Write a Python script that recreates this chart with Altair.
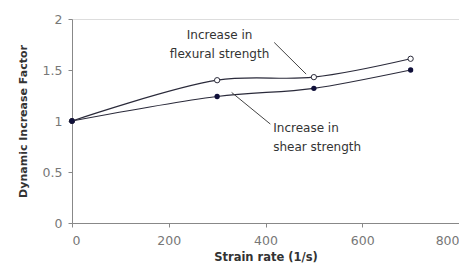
import altair as alt
import pandas as pd

rate = [0, 300, 500, 700]
flexural = [1.0, 1.40, 1.43, 1.61]
shear = [1.0, 1.24, 1.32, 1.50]

x_ticks = [0, 200, 400, 600, 800]
y_ticks = [0, 0.5, 1, 1.5, 2]

label_x = [305, 305, 416, 416]
label_y = [1.84, 1.66, 0.93, 0.745]
label_text = ["Increase in", "flexural strength", "Increase in", "shear strength"]
label_align = ["center", "center", "left", "left"]

leader_x = [418, 330]
leader_y = [1.77, 1.28]
leader_x2 = [484, 410]
leader_y2 = [1.46, 0.97]

df_f = pd.DataFrame({"rate": rate, "v": flexural})
df_s = pd.DataFrame({"rate": rate, "v": shear})
df_lab = pd.DataFrame({"x": label_x, "y": label_y, "t": label_text, "a": label_align})
df_lead = pd.DataFrame({"x": leader_x, "y": leader_y, "x2": leader_x2, "y2": leader_y2})

FONT = "DejaVu Sans"
LINE = "#2a2a3a"

xs = alt.Scale(domain=[0, 800], nice=False)
ys = alt.Scale(domain=[0, 2], nice=False)

xax = alt.Axis(values=x_ticks, title="Strain rate (1/s)", grid=False, labelFontSize=12.5,
               labelColor="#777", titleFontSize=11.5, titleColor="#333", titleFontWeight="bold",
               domainColor="#888", tickColor="#888", tickSize=4, labelPadding=7, titlePadding=5,
               labelFont=FONT, titleFont=FONT, format="d")
yax = alt.Axis(values=y_ticks, title="Dynamic Increase Factor", grid=False, labelFontSize=12.5,
               labelColor="#777", titleFontSize=11, titleColor="#333", titleFontWeight="bold",
               domainColor="#888", tickColor="#888", tickSize=4, labelPadding=6, titlePadding=14,
               labelFont=FONT, titleFont=FONT, format="~g")

flex_line = alt.Chart(df_f).mark_line(interpolate="catmull-rom", color=LINE, strokeWidth=1.2).encode(
    x=alt.X("rate:Q", scale=xs, axis=xax), y=alt.Y("v:Q", scale=ys, axis=yax))
shear_line = alt.Chart(df_s).mark_line(interpolate="catmull-rom", color=LINE, strokeWidth=1.2).encode(
    x=alt.X("rate:Q", scale=xs), y=alt.Y("v:Q", scale=ys))
flex_pts = alt.Chart(df_f).mark_point(shape="circle", filled=True, fill="white", stroke=LINE,
                                      strokeWidth=1, size=28, opacity=1).encode(
    x="rate:Q", y="v:Q")
shear_pts = alt.Chart(df_s).mark_point(shape="circle", filled=True, color="#10103a", size=28,
                                       opacity=1).encode(x="rate:Q", y="v:Q")

leads = alt.Chart(df_lead).mark_rule(color="#444", strokeWidth=1).encode(
    x="x:Q", y="y:Q", x2="x2:Q", y2="y2:Q")

labs_c = alt.Chart(df_lab[df_lab.a == "center"]).mark_text(
    font=FONT, fontSize=12, color="#333", align="center", baseline="middle").encode(
    x="x:Q", y="y:Q", text="t:N")
labs_l = alt.Chart(df_lab[df_lab.a == "left"]).mark_text(
    font=FONT, fontSize=12, color="#333", align="left", baseline="middle").encode(
    x="x:Q", y="y:Q", text="t:N")

chart = alt.layer(flex_line, shear_line, leads, flex_pts, shear_pts, labs_c, labs_l).properties(
    width=387, height=204,
    autosize=alt.AutoSizeParams(type="none"),
    padding={"left": 64, "top": 11, "right": 0, "bottom": 44},
).configure_view(stroke="#888", strokeWidth=1).configure(background="white")

chart.save("out.html", embed_options={"renderer": "svg", "actions": False})
